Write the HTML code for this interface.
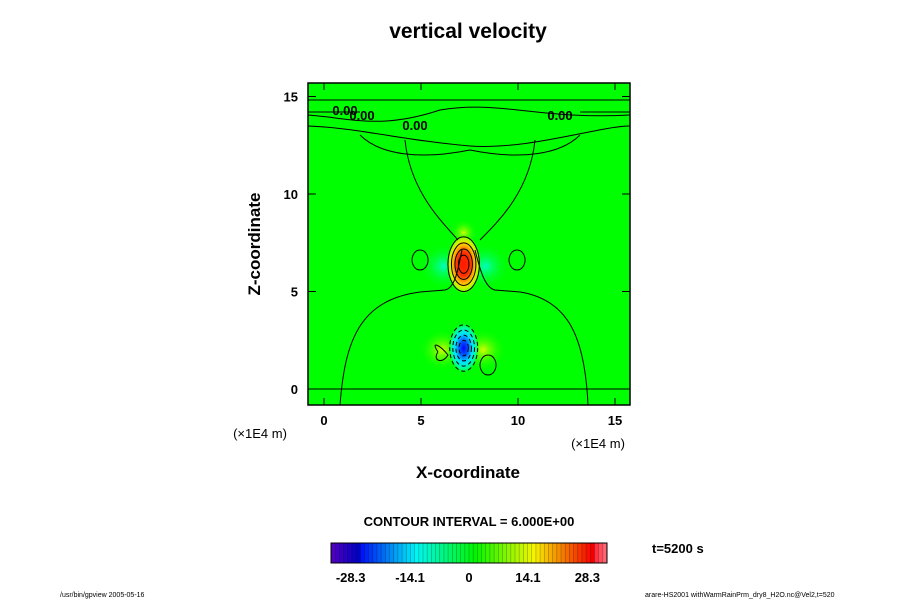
<!DOCTYPE html>
<html><head><meta charset="utf-8"><style>
body{margin:0;background:#fff;}
svg text{font-family:"Liberation Sans",sans-serif;}
</style></head><body>
<svg width="900" height="600" viewBox="0 0 900 600" xmlns="http://www.w3.org/2000/svg">
<defs>
<radialGradient id="gRed"><stop offset="0" stop-color="#ff1800"/><stop offset="0.4" stop-color="#ff3000"/><stop offset="0.55" stop-color="#ff9000"/><stop offset="0.7" stop-color="#ffe000"/><stop offset="0.85" stop-color="#a8ff00"/><stop offset="1" stop-color="#00ff00" stop-opacity="0"/></radialGradient>
<radialGradient id="gBlue"><stop offset="0" stop-color="#0000ff"/><stop offset="0.3" stop-color="#0060ff"/><stop offset="0.55" stop-color="#00e0ff"/><stop offset="0.8" stop-color="#00ffa0"/><stop offset="1" stop-color="#00ff00" stop-opacity="0"/></radialGradient>
<radialGradient id="gCyan"><stop offset="0" stop-color="#00ffc0"/><stop offset="1" stop-color="#00ff00" stop-opacity="0"/></radialGradient>
<radialGradient id="gYel"><stop offset="0" stop-color="#d0ff00"/><stop offset="1" stop-color="#00ff00" stop-opacity="0"/></radialGradient>
<clipPath id="plotClip"><rect x="308" y="83" width="322" height="322"/></clipPath>
</defs>
<text x="468" y="38" text-anchor="middle" font-size="21" font-weight="bold">vertical velocity</text>
<g id="plot" clip-path="url(#plotClip)">
<rect x="308" y="83" width="322" height="322" fill="#00ff00"/>
<g id="blobs"></g>
<g id="contours" fill="none" stroke="#000" stroke-width="1"></g>
</g>
<rect x="308" y="83" width="322" height="322" fill="none" stroke="#000" stroke-width="1.5"/>
<g id="axes"></g>
<text x="260" y="244" text-anchor="middle" font-size="17" font-weight="bold" transform="rotate(-90 260 244)">Z-coordinate</text>
<text x="468" y="478" text-anchor="middle" font-size="17" font-weight="bold">X-coordinate</text>
<text x="260" y="438" text-anchor="middle" font-size="13" font-family="Liberation Mono">(×1E4 m)</text>
<text x="598" y="448" text-anchor="middle" font-size="13" font-family="Liberation Mono">(×1E4 m)</text>
<text x="469" y="526" text-anchor="middle" font-size="13" font-weight="bold">CONTOUR INTERVAL = 6.000E+00</text>
<g id="cbar"></g>
<text x="652" y="553" font-size="13" font-weight="bold">t=5200 s</text>
<text x="60" y="597" font-size="7">/usr/bin/gpview 2005-05-16</text>
<text x="645" y="597" font-size="7">arare-HS2001 withWarmRainPrm_dry8_H2O.nc@Vel2,t=520</text>
</svg>
<script>
const NS="http://www.w3.org/2000/svg";
const xTicks=[0,5,10,15];
const zTicks=[0,5,10,15];
const cbarTicks=[-28.3,-14.1,0,14.1,28.3];
const cbarMin=-33, cbarMax=33, cbarStep=1;
// blobs: center x, z (1E4 m), radius x, radius z, peak value
const blobX=[6.2,8.3,6.1,8.2,7.2,7.2,7.2];
const blobZ=[6.3,6.3,2.0,2.0,8.0,6.4,2.1];
const blobRX=[1.3,1.3,1.2,1.2,0.7,0.9,0.8];
const blobRZ=[1.0,1.0,0.9,0.9,0.6,1.3,1.1];
const blobVal=[-6,-6,5,5,8,32,-30];
const sx=v=>324+v*19.4;
const sz=v=>389-v*19.5;
function mk(t,a,p){const e=document.createElementNS(NS,t);for(const k in a)e.setAttribute(k,a[k]);(p||document.querySelector('svg')).appendChild(e);return e;}
const bl=document.getElementById('blobs');
blobX.forEach((x,i)=>{
 const v=blobVal[i];
 const fill=v>=20?'url(#gRed)':v<=-20?'url(#gBlue)':v<0?'url(#gCyan)':'url(#gYel)';
 const e=mk('ellipse',{cx:sx(x),cy:sz(blobZ[i]),rx:blobRX[i]*19.4,ry:blobRZ[i]*19.5*1.2,fill:fill},bl);
 
 
});
const ct=document.getElementById('contours');
[0.3,0.5,0.7,0.9].forEach(f=>{
 [5,6].forEach(i=>{
  const e=mk('ellipse',{cx:sx(blobX[i]),cy:sz(blobZ[i]),rx:blobRX[i]*19.4*f,ry:blobRZ[i]*19.5*f*1.2,'stroke-dasharray':blobVal[i]<0?'4,3':'none'},ct);
  
  
 });
});
const paths=["M340,405 C345,340 360,300 420,292 L445,290 C455,288 458,270 462,250","M588,405 C585,340 570,300 520,292 L495,290 C485,288 480,270 475,250",
"M405,140 C410,190 440,220 458,240","M535,140 C530,190 500,220 480,240",
"M308,115 C350,118 380,130 440,110 C500,100 540,120 630,115","M308,126 C360,128 400,140 470,146 C530,150 600,126 630,126",
"M308,100 L630,100","M308,112 L360,112","M580,112 L630,112","M360,135 C380,155 420,160 470,150 C520,160 560,155 580,135",
"M308,389 L630,389","M438,352 C430,340 440,345 448,355 C442,365 432,360 438,352",
"M420,250 a8,10 0 1,0 0.1,0","M517,250 a8,10 0 1,0 0.1,0","M488,355 a8,10 0 1,0 0.1,0"];
paths.forEach(d=>{const e=mk('path',{d:d},ct);});
[[345,115],[362,120],[415,130],[560,120]].forEach(p=>{const t=mk('text',{x:p[0],y:p[1],'font-size':'13','font-weight':'bold','text-anchor':'middle'},document.getElementById('plot'));t.textContent='0.00';});
const ax=document.getElementById('axes');
xTicks.forEach(v=>{
 const l=mk('line',{x1:sx(v),x2:sx(v),y1:405,y2:398,stroke:'#000'},ax);
 mk('line',{x1:sx(v),x2:sx(v),y1:83,y2:90,stroke:'#000'},ax);
 const t=mk('text',{x:sx(v),y:425,'font-size':'13','font-weight':'bold','text-anchor':'middle'},ax);t.textContent=v;
});
zTicks.forEach(v=>{
 const l=mk('line',{x1:308,x2:316,y1:sz(v),y2:sz(v),stroke:'#000'},ax);
 mk('line',{x1:630,x2:622,y1:sz(v),y2:sz(v),stroke:'#000'},ax);
 const t=mk('text',{x:298,y:sz(v)+5,'font-size':'13','font-weight':'bold','text-anchor':'end'},ax);t.textContent=v;
});
const cb=document.getElementById('cbar');
const cx0=331,cx1=607;
const cs=v=>cx0+(v-cbarMin)/(cbarMax-cbarMin)*(cx1-cx0);
function col(v){if(v>29)return 'hsl(355,100%,'+(55+(v-29)*5)+'%)';let f=(v-cbarMin)/(29-cbarMin);const h=265-f*265;return 'hsl('+h+',100%,'+(v<-26?38:48)+'%)';}
for(let v=cbarMin;v<cbarMax;v+=cbarStep){
 const r=mk('rect',{x:cs(v),y:543,width:cs(v+cbarStep)-cs(v)+0.3,height:20,fill:col(v)},cb);
 
 mk('line',{x1:cs(v),x2:cs(v),y1:543,y2:563,stroke:'#000','stroke-opacity':'0.35','stroke-width':'0.6'},cb);
}
mk('rect',{x:cx0,y:543,width:cx1-cx0,height:20,fill:'none',stroke:'#000','stroke-width':'1'},cb);
cbarTicks.forEach(v=>{const t=mk('text',{x:cs(v),y:582,'font-size':'13','font-weight':'bold','text-anchor':'middle'},cb);t.textContent=v;});
</script>
</body></html>
